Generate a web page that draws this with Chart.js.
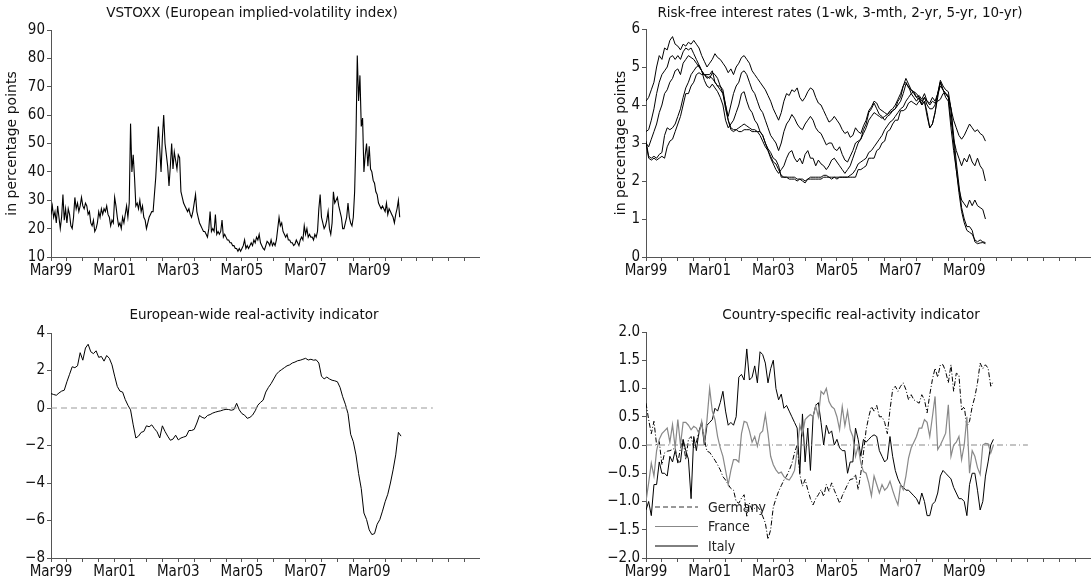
<!DOCTYPE html>
<html>
<head>
<meta charset="utf-8">
<script src="https://cdn.jsdelivr.net/npm/chart.js@4.4.1/dist/chart.umd.min.js"></script>
<style>
  body { margin: 0; background: #fff; width: 1091px; height: 582px; overflow: hidden; position: relative; }
  canvas { position: absolute; }
</style>
</head>
<body>
<canvas id="c1" width="545" height="290" style="left:0;top:0"></canvas>
<canvas id="c2" width="546" height="290" style="left:545px;top:0"></canvas>
<canvas id="c3" width="545" height="292" style="left:0;top:290px"></canvas>
<canvas id="c4" width="546" height="292" style="left:545px;top:290px"></canvas>
<script>
// x axis: months since Mar99, labelled every two years
const tickLabels = ['Mar99', 'Mar01', 'Mar03', 'Mar05', 'Mar07', 'Mar09'];

// VSTOXX, twice a month from Mar99
const vstoxx = [
  25, 28, 24, 26, 22, 28, 24, 20, 24, 32, 23, 27,
  22, 27, 25, 21, 20, 24, 31, 27, 29, 26, 28, 31,
  28, 27, 29, 28, 25, 26, 22, 21, 23, 19, 20, 22,
  26, 24, 27, 25, 27, 26, 28, 25, 24, 21, 23, 22,
  31, 28, 24, 21, 22, 20, 24, 22, 25, 28, 24, 29,
  57, 40, 46, 38, 28, 29, 27, 30, 26, 28, 24, 23,
  20, 22, 24, 25, 26, 26, 32, 38, 47, 56, 48, 40,
  52, 60, 50, 46, 42, 35, 42, 50, 41, 47, 44, 41,
  46, 45, 33, 31, 29, 28, 27, 26, 27, 25, 24, 26,
  29, 32, 26, 24, 22, 21, 20, 19, 19, 18, 17, 20,
  26, 19, 20, 19, 25, 18, 19, 18, 19, 23, 17, 18,
  17, 16, 16, 15, 15, 14, 14, 13, 13, 12, 13, 12,
  13, 14, 16, 13, 14, 13, 14, 15, 14, 16, 15, 17,
  16, 18, 15, 14, 13, 12.5, 14, 15.5, 15, 14, 16, 14,
  15, 14, 16, 20, 24, 21, 22, 19, 18, 17, 18, 16,
  16, 15, 15, 14, 14.5, 16, 15, 14, 16, 17, 16, 21,
  18, 20, 17, 18, 17, 17, 16, 18, 17, 19, 27, 32,
  24, 22, 20, 21, 23, 26, 20, 18, 22, 33, 29, 30,
  31, 28, 26, 24, 20, 20, 22, 24, 29, 24, 22, 21,
  24, 33, 52, 81, 65, 74, 56, 59, 40, 46, 50, 42,
  49, 41, 40, 37, 36, 33, 32, 29, 28, 27, 28, 27,
  26, 29, 25, 27, 26, 25, 24, 22, 25, 27, 30, 24
];

// risk-free rates, monthly from Mar99
const rate1w = [
  3.0, 2.6, 2.55, 2.6, 2.55, 2.6, 2.65, 2.6, 2.9, 3.05, 3.1, 3.3,
  3.5, 3.7, 4.0, 4.3, 4.3, 4.5, 4.6, 4.8, 4.85, 4.8, 4.8, 4.8,
  4.8, 4.9, 4.6, 4.5, 4.5, 4.4, 4.0, 3.6, 3.35, 3.3, 3.35, 3.3,
  3.3, 3.35, 3.35, 3.35, 3.3, 3.3, 3.3, 3.3, 3.2, 3.0, 2.85, 2.75,
  2.6, 2.55, 2.4, 2.1, 2.1, 2.1, 2.05, 2.05, 2.05, 2.0, 2.05, 2.0,
  1.95, 2.05, 2.05, 2.05, 2.05, 2.05, 2.05, 2.1, 2.1, 2.1, 2.05, 2.1,
  2.05, 2.1, 2.1, 2.1, 2.1, 2.1, 2.1, 2.1, 2.3, 2.3, 2.35, 2.4,
  2.6, 2.6, 2.6, 2.8, 2.85, 3.0, 3.05, 3.3, 3.35, 3.5, 3.6, 3.6,
  3.85, 3.85, 3.9, 4.05, 4.1, 4.05, 4.0, 4.1, 4.05, 4.2, 4.1, 4.0,
  4.1, 4.05, 4.1, 4.15, 4.3, 4.3, 4.2, 3.9, 3.2, 2.5, 1.9, 1.3,
  1.0, 0.8, 0.8, 0.7, 0.4, 0.35, 0.37, 0.38, 0.35
];
const rate3m = [
  3.05, 2.65, 2.6, 2.65, 2.6, 2.7, 2.75, 3.2, 3.4, 3.35, 3.4, 3.5,
  3.7, 3.9, 4.2, 4.45, 4.6, 4.8, 4.9, 5.0, 5.05, 4.9, 4.8, 4.7,
  4.75, 4.7, 4.6, 4.5, 4.4, 4.3, 3.9, 3.6, 3.4, 3.35, 3.35, 3.4,
  3.45, 3.5, 3.45, 3.4, 3.35, 3.35, 3.3, 3.2, 3.05, 2.9, 2.8, 2.65,
  2.5, 2.45, 2.3, 2.15, 2.1, 2.1, 2.1, 2.1, 2.1, 2.05, 2.05, 2.05,
  2.0, 2.05, 2.1, 2.1, 2.1, 2.1, 2.1, 2.15, 2.15, 2.1, 2.1, 2.1,
  2.1, 2.1, 2.1, 2.1, 2.1, 2.15, 2.2, 2.3, 2.45, 2.5, 2.55, 2.6,
  2.75, 2.8, 2.9, 3.0, 3.1, 3.2, 3.35, 3.45, 3.55, 3.6, 3.7, 3.8,
  3.9, 3.95, 4.1, 4.2, 4.3, 4.35, 4.2, 4.25, 4.15, 4.3, 4.1, 4.05,
  4.2, 4.1, 4.3, 4.5, 4.4, 4.3, 4.25, 3.9, 3.0, 2.3, 1.7, 1.2,
  0.9, 0.7, 0.65, 0.6, 0.45, 0.4, 0.45, 0.4, 0.38
];
const rate2y = [
  3.0, 2.9, 3.1, 3.3, 3.5, 3.8, 4.0, 4.3, 4.4, 4.6, 4.7, 4.9,
  4.95, 4.8, 5.1, 5.2, 5.3, 5.25, 5.2, 5.1, 5.0, 4.9, 4.65, 4.5,
  4.45, 4.55, 4.45, 4.35, 4.2, 4.0, 3.6, 3.4, 3.5, 3.6, 3.8, 4.0,
  4.3, 4.35, 4.1, 3.9, 3.8, 3.6, 3.5, 3.3, 3.2, 3.0, 2.8, 2.6,
  2.45, 2.3, 2.2, 2.3, 2.4, 2.6, 2.75, 2.8, 2.6, 2.5, 2.6, 2.45,
  2.7, 2.8, 2.6, 2.6, 2.4, 2.55, 2.45, 2.4, 2.3, 2.4, 2.55, 2.6,
  2.5, 2.4, 2.3, 2.2, 2.3, 2.4, 2.6, 2.8, 3.0, 3.1, 3.25, 3.4,
  3.6, 3.7, 3.8, 3.75, 3.7, 3.65, 3.7, 3.75, 3.8, 3.85, 3.9, 4.0,
  4.1, 4.3, 4.55, 4.5, 4.3, 4.2, 4.1, 4.2, 4.0, 4.1, 3.7, 3.4,
  3.5, 3.8, 4.2, 4.6, 4.4, 4.2, 4.1, 3.4, 2.8, 2.3, 1.8, 1.5,
  1.4, 1.3, 1.5, 1.35, 1.5, 1.35, 1.3, 1.25, 1.0
];
const rate5y = [
  3.3, 3.35, 3.6, 3.9, 4.3, 4.6, 4.8, 4.9, 5.0, 5.25, 5.3, 5.2,
  5.3, 5.2, 5.4, 5.5, 5.45, 5.5, 5.35, 5.2, 5.05, 4.9, 4.8, 4.75,
  4.7, 4.85, 4.8, 4.7, 4.5, 4.3, 4.0, 3.7, 4.0, 4.3, 4.5, 4.6,
  4.85, 4.9, 4.8, 4.6, 4.4, 4.3, 4.1, 3.9, 3.8, 3.6, 3.4, 3.2,
  3.1, 3.0, 2.8, 3.0, 3.3, 3.5, 3.6, 3.75, 3.65, 3.5, 3.4, 3.35,
  3.5, 3.6, 3.7, 3.6, 3.4, 3.3, 3.25, 3.1, 2.95, 3.0, 3.0, 2.85,
  2.8, 2.9, 2.7, 2.55, 2.5, 2.65, 2.8, 3.0, 3.05, 3.1, 3.35, 3.5,
  3.8, 3.9, 4.05, 3.9, 3.75, 3.7, 3.6, 3.7, 3.75, 3.85, 3.9, 4.1,
  4.2, 4.5, 4.7, 4.55, 4.4, 4.3, 4.2, 4.15, 4.0, 4.1, 3.8, 3.4,
  3.5, 3.8, 4.3, 4.6, 4.4, 4.3, 4.2, 3.6, 3.1, 2.8, 2.6, 2.4,
  2.6, 2.5, 2.7, 2.5, 2.4, 2.6, 2.4, 2.3, 2.0
];
const rate10y = [
  4.1, 4.2, 4.4, 4.6, 5.0, 5.3, 5.2, 5.5, 5.45, 5.7, 5.8, 5.6,
  5.55, 5.45, 5.6, 5.55, 5.65, 5.6, 5.7, 5.6, 5.5, 5.3, 5.15, 5.0,
  5.1, 5.2, 5.35, 5.25, 5.2, 5.1, 5.0, 4.85, 4.95, 4.8, 5.0, 5.1,
  5.25, 5.3, 5.2, 5.1, 4.9, 4.8, 4.7, 4.6, 4.5, 4.4, 4.25, 4.1,
  3.9, 3.75, 3.6, 3.8, 4.1, 4.3, 4.25, 4.4, 4.35, 4.45, 4.2, 4.1,
  4.2, 4.35, 4.45, 4.4, 4.2, 4.05, 4.0, 3.85, 3.7, 3.55, 3.6, 3.7,
  3.6, 3.5, 3.35, 3.25, 3.3, 3.15, 3.2, 3.4, 3.3, 3.25, 3.45, 3.6,
  3.85, 3.95, 4.1, 4.05, 3.9, 3.85, 3.8, 3.75, 3.85, 3.9, 4.0, 4.15,
  4.3, 4.5, 4.6, 4.45, 4.4, 4.35, 4.3, 4.2, 4.1, 4.2, 4.0, 3.9,
  3.9, 4.0, 4.3, 4.65, 4.5, 4.4, 4.35, 3.9, 3.6, 3.4, 3.2, 3.1,
  3.2, 3.35, 3.5, 3.4, 3.3, 3.35, 3.25, 3.2, 3.05
];

// European-wide real-activity indicator, monthly from Mar99
const euroActivity = [
  0.77, 0.72, 0.68, 0.8, 0.9, 0.95, 1.4, 1.8, 2.2, 2.15, 2.25, 2.95,
  2.55, 3.2, 3.4, 3.0, 2.9, 3.05, 2.7, 2.75, 2.5, 2.8, 2.65, 2.3,
  1.7, 1.15, 0.9, 0.85, 0.45, 0.15, -0.1, -0.9, -1.6, -1.5, -1.3, -1.25,
  -0.95, -1.0, -0.9, -1.1, -1.27, -1.6, -0.95, -1.25, -1.5, -1.72, -1.66, -1.45,
  -1.7, -1.6, -1.55, -1.5, -1.2, -1.2, -1.14, -0.8, -0.4, -0.5, -0.55, -0.4,
  -0.35, -0.27, -0.22, -0.18, -0.15, -0.1, -0.07, -0.08, -0.12, -0.08, 0.25, -0.1,
  -0.3, -0.38, -0.55, -0.5, -0.38, -0.15, 0.15, 0.3, 0.42, 0.85, 1.1, 1.3,
  1.55, 1.8, 1.95, 2.05, 2.15, 2.25, 2.3, 2.4, 2.45, 2.52, 2.55, 2.6,
  2.65, 2.56, 2.6, 2.55, 2.57, 2.4, 1.7, 1.55, 1.65, 1.55, 1.48, 1.45,
  1.4, 1.1, 0.6, 0.2, -0.3, -1.4, -1.8, -2.5, -3.5, -4.3, -5.6, -5.95,
  -6.5, -6.75, -6.7, -6.2, -5.95, -5.5, -5.0, -4.6, -4.0, -3.3, -2.5, -1.3,
  -1.5
];

// country-specific real-activity indicators, monthly from Mar99
const germany = [
  0.74, 0.45, 0.2, 0.42, 0.0, 0.06, -0.35, -0.14, -0.11, -0.1, -0.08, -0.05,
  -0.32, -0.05, 0.09, -0.26, 0.1, 0.15, -0.05, 0.05, 0.24, 0.39, 0.1, -0.11,
  -0.13, -0.2, -0.27, -0.35, -0.44, -0.56, -0.62, -0.7, -0.77, -0.8, -1.0, -1.03,
  -0.94, -0.88, -1.26, -1.03, -1.15, -1.12, -1.09, -1.15, -1.26, -1.38, -1.67, -1.5,
  -1.1, -0.95, -0.82, -0.72, -0.62, -0.55, -0.45, -0.33, -0.14, 0.0, -0.52, -0.73,
  -0.61, -0.79, -0.95, -1.06, -0.95, -0.88, -0.79, -0.91, -0.7, -0.82, -0.67, -0.8,
  -0.91, -1.03, -0.9, -0.8, -0.7, -0.61, -0.6, -0.52, -0.79, -0.5, -0.14, 0.27,
  0.5, 0.68, 0.6, 0.7, 0.5, 0.5, 0.4, 0.2, 0.62, 0.98, 1.04, 0.95,
  1.04, 1.1, 0.98, 0.8, 0.89, 0.8, 0.77, 0.74, 0.89, 0.8, 0.57, 0.89,
  1.16, 1.36, 1.2, 1.42, 1.42, 1.3, 1.1, 1.42, 0.95, 1.27, 1.24, 0.62,
  0.68, 0.33, 0.42, 0.68, 0.85, 1.1, 1.45, 1.35, 1.42, 1.36, 1.04, 1.13
];
const france = [
  -1.0, -0.67, -0.32, -0.55, -0.1, 0.1, 0.2, 0.25, 0.3, 0.05, 0.36, -0.05,
  0.45, 0.0, 0.4, 0.4, 0.35, 0.27, 0.33, 0.3, 0.2, 0.42, 0.06, 0.45,
  1.0, 0.6, 0.45, 0.15, -0.05, -0.2, -0.45, -0.7, -0.45, -0.26, -0.26, -0.3,
  0.2, 0.42, 0.4, 0.25, 0.05, 0.15, -0.02, 0.2, 0.25, 0.54, 0.2, -0.2,
  -0.35, -0.44, -0.5, -0.48, -0.56, -0.6, -0.62, -0.55, -0.45, -0.1, 0.35, 0.18,
  0.45, 0.5, 0.54, 0.5, 0.69, 0.5, 0.95, 0.9, 1.0, 0.77, 0.68, 0.64,
  0.5, 0.27, 0.68, 0.34, 0.6, 0.27, 0.15, -0.2, -0.02, -0.32, -0.47, -0.5,
  -0.67, -0.9, -0.55, -0.7, -0.85, -0.7, -0.8, -0.75, -0.64, -0.8, -0.94, -1.06,
  -0.7, -0.79, -0.55, -0.23, -0.05, 0.05, 0.15, 0.3, 0.3, 0.45, 0.4, 0.15,
  0.5, 0.86, -0.08, 0.0, 0.1, 0.21, 0.71, -0.2, 0.0, 0.05, 0.15, -0.26,
  0.0, 0.5, -0.5, -0.1, -0.2, -0.4, -0.52, 0.0, 0.03, 0.02, -0.14, 0.0
];
const italy = [
  -1.15, -1.0, -1.25, -0.7, -0.7, -0.3, -0.5, -0.5, -0.55, -0.2, -0.3, -0.1,
  -0.3, -0.3, 0.1, -0.1, -0.25, -0.95, 0.15, -0.1, 0.25, 0.4, 0.0, 0.35,
  0.4, 0.45, 0.65, 0.6, 0.75, 0.95, 0.6, 0.35, 0.4, 0.35, 0.5, 1.2,
  1.25, 1.15, 1.7, 1.15, 1.2, 1.4, 1.1, 1.65, 1.6, 1.45, 1.1, 1.35,
  1.5, 1.0, 0.8, 0.9, 0.65, 0.7, 0.6, 0.5, 0.4, 0.3, -0.5, 0.55,
  -0.3, 0.3, -0.45, 0.5, 0.7, 0.75, 0.4, 0.0, 0.35, 0.2, 0.25, 0.0,
  0.1, -0.05, -0.1, -0.1, -0.5, -0.3, -0.3, 0.3, 0.1, -0.2, 0.1, 0.05,
  0.1, 0.15, 0.18, 0.15, -0.1, -0.2, -0.3, -0.25, 0.15, -0.2, -0.45, -0.6,
  -0.7, -0.75, -0.8, -0.8, -0.85, -0.9, -0.95, -1.05, -0.85, -1.0, -1.25, -1.25,
  -1.05, -1.0, -0.85, -0.55, -0.45, -0.5, -0.55, -0.6, -0.75, -0.85, -0.95, -0.95,
  -1.0, -1.25, -0.7, -0.5, -0.5, -0.8, -1.15, -1.0, -0.55, -0.3, 0.0, 0.1
];

// zero reference lines run from Mar99 to Mar11
const zeroLineX = [0, 144];
const zeroLineY = [0, 0];

const tickFont = { family: '"DejaVu Sans Condensed", "DejaVu Sans", sans-serif', size: 15 };
const textFamily = '"DejaVu Sans", sans-serif';
const axisColor = '#555';

function points(values, step) {
  return values.map((v, i) => ({ x: i * step, y: v }));
}
function zeroPoints() {
  return zeroLineX.map((x, i) => ({ x: x, y: zeroLineY[i] }));
}

function xAxis(max) {
  return {
    type: 'linear', min: 0, max: max,
    afterBuildTicks: s => {
      s.ticks = [];
      for (let v = 0; v <= max; v += 6) s.ticks.push({ value: v });
    },
    afterFit: s => { s.height = 20; },
    ticks: {
      autoSkip: false, maxRotation: 0, padding: 1, color: '#111', font: tickFont,
      callback: v => (v % 24 === 0 && v / 24 < tickLabels.length) ? tickLabels[v / 24] : ''
    },
    grid: { drawOnChartArea: false, tickLength: 4, color: axisColor },
    border: { color: axisColor }
  };
}

function yAxis(min, max, step, digits, width, label) {
  const isMajor = v => {
    const k = (v - min) / step;
    return Math.abs(k - Math.round(k)) < 1e-6;
  };
  return {
    type: 'linear', min: min, max: max,
    afterBuildTicks: s => {
      s.ticks = [];
      for (let k = 0; min + k * step / 2 <= max + 1e-9; k++) s.ticks.push({ value: min + k * step / 2 });
    },
    afterFit: s => { s.width = width; },
    ticks: {
      color: '#111', font: tickFont, padding: 2,
      callback: v => isMajor(v) ? v.toFixed(digits).replace('-', '\u2212') : ''
    },
    grid: { drawOnChartArea: false, tickLength: 4, color: axisColor },
    border: { color: axisColor },
    title: label ? {
      display: true, text: label, color: '#111',
      font: { family: textFamily, size: 14 }, padding: { top: 4, bottom: 0 }
    } : { display: false }
  };
}

const panelTitle = {
  id: 'panelTitle',
  afterDraw(chart, args, opts) {
    const ctx = chart.ctx;
    ctx.save();
    ctx.font = '13.5px ' + textFamily;
    ctx.fillStyle = '#111';
    ctx.textAlign = 'center';
    ctx.textBaseline = 'middle';
    ctx.fillText(opts.text, opts.x, opts.y);
    ctx.restore();
  }
};

// legend inside the last panel, under the lines
const innerLegend = {
  id: 'innerLegend',
  beforeDatasetsDraw(chart, args, opts) {
    if (!opts.items) return;
    const ctx = chart.ctx;
    ctx.save();
    opts.items.forEach((it, i) => {
      const y = opts.y + i * opts.gap;
      ctx.beginPath();
      ctx.setLineDash(it.dash || []);
      ctx.strokeStyle = it.color;
      ctx.lineWidth = 1;
      ctx.moveTo(opts.x, y);
      ctx.lineTo(opts.x + 43, y);
      ctx.stroke();
      ctx.setLineDash([]);
      ctx.fillStyle = '#222';
      ctx.font = '14px ' + tickFont.family;
      ctx.textBaseline = 'middle';
      ctx.fillText(it.label, opts.x + 53, y + 1);
    });
    ctx.restore();
  }
};

function line(data, color, width, dash) {
  return {
    data: data, borderColor: color, borderWidth: width, borderDash: dash || [],
    pointRadius: 0, tension: 0, fill: false
  };
}

function makeChart(id, datasets, xs, ys, padding, title, legend) {
  return new Chart(document.getElementById(id), {
    type: 'line',
    data: { datasets: datasets },
    options: {
      responsive: false, animation: false, devicePixelRatio: 1,
      layout: { padding: padding },
      scales: { x: xs, y: ys },
      plugins: {
        legend: { display: false },
        tooltip: { enabled: false },
        panelTitle: title,
        innerLegend: legend || {}
      }
    },
    plugins: [panelTitle, innerLegend]
  });
}

makeChart('c1',
  [line(points(vstoxx, 0.5), '#000', 1.1)],
  xAxis(161.4), yAxis(10, 90, 10, 0, 51, 'in percentage points'),
  { left: 0, top: 30, right: 66, bottom: 13 },
  { text: 'VSTOXX (European implied-volatility index)', x: 252, y: 13 });

makeChart('c2',
  [rate1w, rate3m, rate2y, rate5y, rate10y].map(r => line(points(r, 1), '#000', 1)),
  xAxis(167.8), yAxis(0, 6, 1, 0, 37, 'in percentage points'),
  { left: 64, top: 29, right: 0, bottom: 13 },
  { text: 'Risk-free interest rates (1-wk, 3-mth, 2-yr, 5-yr, 10-yr)', x: 295, y: 13 });

makeChart('c3',
  [line(zeroPoints(), '#999', 1, [6, 4]), line(points(euroActivity, 1), '#000', 1)],
  xAxis(161.4), yAxis(-8, 4, 2, 0, 51, null),
  { left: 0, top: 43, right: 66, bottom: 4 },
  { text: 'European-wide real-activity indicator', x: 254, y: 25 });

makeChart('c4',
  [
    line(zeroPoints(), '#888', 1, [6, 3, 1, 3]),
    line(points(france, 1), '#888', 1.2),
    line(points(italy, 1), '#000', 1),
    line(points(germany, 1), '#000', 1, [5, 2, 1, 2])
  ],
  xAxis(167.8), yAxis(-2, 2, 0.5, 1, 101, null),
  { left: 0, top: 42, right: 0, bottom: 4 },
  { text: 'Country-specific real-activity indicator', x: 306, y: 25 },
  {
    x: 110, y: 217, gap: 19.5,
    items: [
      { label: 'Germany', color: '#333', dash: [5, 3] },
      { label: 'France', color: '#888' },
      { label: 'Italy', color: '#000' }
    ]
  });
</script>
</body>
</html>
